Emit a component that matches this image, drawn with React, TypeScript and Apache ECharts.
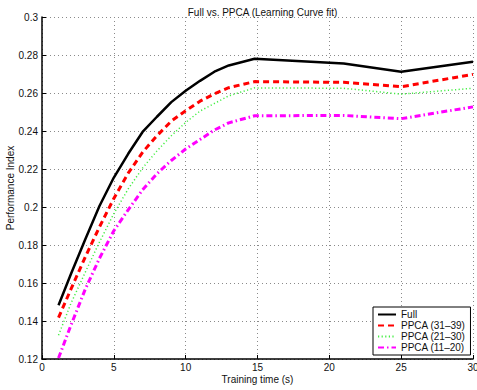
import React, { useEffect, useRef } from "react";
import * as echarts from "echarts";

const trainingTime = [1.15, 2, 3, 4, 5, 6, 7, 8, 9, 10, 11, 12, 13, 14.8, 21, 25, 30];
const fullValues = [0.1483, 0.1645, 0.1828, 0.2005, 0.2155, 0.228, 0.2395, 0.2475, 0.2552, 0.2612, 0.2664, 0.2712, 0.2745, 0.278, 0.2755, 0.2712, 0.2765];
const ppca3139 = [0.1418, 0.1565, 0.1735, 0.1895, 0.2045, 0.2178, 0.2288, 0.2375, 0.2452, 0.2507, 0.2557, 0.2596, 0.2628, 0.266, 0.2656, 0.2633, 0.2698];
const ppca2130 = [0.1325, 0.149, 0.1655, 0.1815, 0.1965, 0.2095, 0.2205, 0.2295, 0.2375, 0.2445, 0.2505, 0.2545, 0.2585, 0.2627, 0.2625, 0.2594, 0.2625];
const ppca1120 = [0.1205, 0.1375, 0.1565, 0.173, 0.1875, 0.1985, 0.209, 0.2175, 0.2245, 0.2305, 0.2355, 0.2405, 0.2443, 0.248, 0.2482, 0.2465, 0.2527];

const seriesNames = ["Full", "PPCA (31–39)", "PPCA (21–30)", "PPCA (11–20)"];
const xTicks = { min: 0, max: 30, interval: 5 };
const yTicks = { min: 0.12, max: 0.3, interval: 0.02 };

const FONT = "'Liberation Sans', Arial, Helvetica, sans-serif";

function pairs(xs: number[], ys: number[]) {
  return xs.map((x, i) => [x, ys[i]]);
}

export default function App() {
  const ref = useRef<HTMLDivElement>(null);
  useEffect(() => {
    if (!ref.current) return;
    const chart = echarts.init(ref.current, null, { renderer: "svg" });
    const gridLine = { show: true, lineStyle: { color: "#8a8a8a", type: [1, 3], width: 1 } };
    const hiddenSymbol = { opacity: 0 };
    chart.setOption({
      animation: false,
      backgroundColor: "#ffffff",
      title: {
        text: "Full vs. PPCA (Learning Curve fit)",
        left: 257.5,
        top: 2,
        textAlign: "center",
        textStyle: { fontFamily: FONT, fontSize: 10, fontWeight: "normal", color: "#111" },
      },
      grid: { left: 42, right: 4, top: 17, bottom: 31, containLabel: false, outerBoundsMode: "none" },
      legend: {
        orient: "vertical",
        left: 373,
        top: 307,
        backgroundColor: "#ffffff",
        borderColor: "#000",
        borderWidth: 1,
        borderRadius: 0,
        padding: [2, 5, 2, 4],
        itemWidth: 18,
        itemHeight: 8,
        itemGap: 0,
        itemStyle: hiddenSymbol,
        data: seriesNames.map((name) => ({ name, itemStyle: hiddenSymbol })),
        textStyle: { fontFamily: FONT, fontSize: 10, color: "#111", lineHeight: 11 },
      },
      xAxis: {
        type: "value",
        min: xTicks.min,
        max: xTicks.max,
        interval: xTicks.interval,
        name: "Training time (s)",
        nameLocation: "middle",
        nameGap: 15,
        nameMoveOverlap: false,
        nameTextStyle: { fontFamily: FONT, fontSize: 10, color: "#111" },
        axisLine: { show: true, onZero: false, lineStyle: { color: "#000", width: 1.5 } },
        axisTick: { show: true, inside: true, length: 4, lineStyle: { color: "#000" } },
        axisLabel: { fontFamily: FONT, fontSize: 10, color: "#111", margin: 3 },
        splitLine: gridLine,
      },
      yAxis: {
        type: "value",
        min: yTicks.min,
        max: yTicks.max,
        interval: yTicks.interval,
        name: "Performance Index",
        nameLocation: "middle",
        nameGap: 27,
        nameMoveOverlap: false,
        nameTextStyle: { fontFamily: FONT, fontSize: 10, color: "#111" },
        axisLine: { show: true, onZero: false, lineStyle: { color: "#000", width: 1.5 } },
        axisTick: { show: true, inside: true, length: 4, lineStyle: { color: "#000" } },
        axisLabel: { fontFamily: FONT, fontSize: 10, color: "#111", margin: 4 },
        splitLine: gridLine,
      },
      series: [
        {
          name: seriesNames[0],
          type: "line",
          data: pairs(trainingTime, fullValues),
          symbol: "none",
          lineStyle: { color: "#000000", width: 2.5, type: "solid" },
          itemStyle: { color: "#000000" },
          z: 5,
        },
        {
          name: seriesNames[1],
          type: "line",
          data: pairs(trainingTime, ppca3139),
          symbol: "none",
          lineStyle: { color: "#ff0000", width: 3, type: [6, 4] },
          itemStyle: { color: "#ff0000" },
          z: 4,
        },
        {
          name: seriesNames[2],
          type: "line",
          data: pairs(trainingTime, ppca2130),
          symbol: "none",
          lineStyle: { color: "#44ee44", width: 1.5, type: [1.2, 2.4] },
          itemStyle: { color: "#44ee44" },
          z: 3,
        },
        {
          name: seriesNames[3],
          type: "line",
          data: pairs(trainingTime, ppca1120),
          symbol: "none",
          lineStyle: { color: "#ff00ff", width: 3, type: [6, 3, 1.5, 3] },
          itemStyle: { color: "#ff00ff" },
          z: 2,
        },
      ],
    });
    return () => chart.dispose();
  }, []);
  return (
    <div
      ref={ref}
      style={{ position: "fixed", left: 0, top: 0, width: 477, height: 390, background: "#fff" }}
    />
  );
}
